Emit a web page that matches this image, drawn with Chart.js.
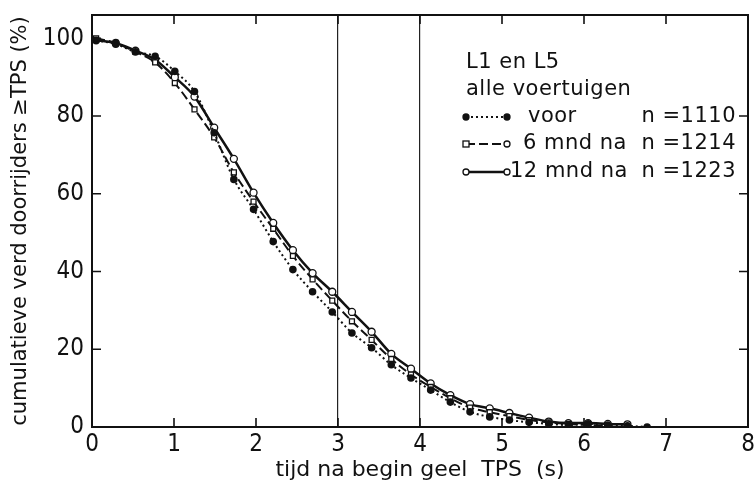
<!DOCTYPE html>
<html>
<head>
<meta charset="utf-8">
<script src="https://cdn.jsdelivr.net/npm/chart.js@4.4.0/dist/chart.umd.min.js"></script>
<style>
  body { margin: 0; background: #fff; }
  #wrap { width: 756px; height: 492px; }
</style>
</head>
<body>
<div id="wrap"><canvas id="grafico"></canvas></div>
<script>
// tijd na begin geel (s) van de meetpunten
const tijden = [0.05, 0.29, 0.53, 0.77, 1.01, 1.25, 1.49, 1.73, 1.97, 2.21, 2.45, 2.69, 2.93, 3.17, 3.41,
                3.65, 3.89, 4.13, 4.37, 4.61, 4.85, 5.09, 5.33, 5.57, 5.81, 6.05, 6.29, 6.53, 6.77];
// cumulatieve verdeling doorrijders (%)
const voor = [99.5, 98.5, 96.5, 95.4, 91.5, 86.3, 75.7, 63.7, 56, 47.7, 40.5, 34.8, 29.6, 24.2, 20.4,
              16, 12.6, 9.5, 6.4, 3.9, 2.6, 1.8, 1.2, 0.8, 0.5, 0.8, 0.5, 0.3, 0];
const zesMnd = [100, 98.8, 96.5, 93.8, 88.5, 81.7, 74.5, 65.5, 58, 51, 44, 38, 32.5, 27.2, 22.4,
                17.5, 13.5, 10.3, 7.4, 5.0, 3.8, 2.8, 1.8, 1.2, 0.8, 0.5, 0.3];
const twaalfMnd = [99.5, 98.8, 96.8, 94.5, 90, 85, 77, 69, 60.3, 52.5, 45.5, 39.6, 34.8, 29.6, 24.5,
                   18.8, 15, 11.2, 8.2, 5.9, 4.8, 3.6, 2.4, 1.4, 1.0, 1.0, 0.8, 0.7];

const xTicks = [0, 1, 2, 3, 4, 5, 6, 7, 8];
const yTicks = [0, 20, 40, 60, 80, 100];
const hulpLijnen = [3, 4];

const kop = ['L1 en L5', 'alle voertuigen'];
const reeksNamen = ['voor', '6 mnd na', '12 mnd na'];
const aantallen = ['n =1110', 'n =1214', 'n =1223'];

const SMAL = '"DejaVu Sans Condensed", "Liberation Sans Narrow", "DejaVu Sans", sans-serif';
const BREED = '"DejaVu Sans", sans-serif';

function punten(waarden) {
  return waarden.map((v, i) => ({ x: tijden[i], y: v }));
}

// kader met naar binnen gerichte streepjes + legenda in de grafiek
const kader = {
  id: 'kader',
  afterDraw(chart) {
    const { ctx, chartArea: a, scales: { x, y } } = chart;
    ctx.save();
    ctx.strokeStyle = '#111';
    ctx.lineWidth = 2;
    ctx.strokeRect(a.left, a.top, a.right - a.left, a.bottom - a.top);

    ctx.lineWidth = 1.6;
    ctx.beginPath();
    xTicks.slice(1, -1).forEach(v => {
      const px = x.getPixelForValue(v);
      ctx.moveTo(px, a.bottom); ctx.lineTo(px, a.bottom - 9);
      ctx.moveTo(px, a.top); ctx.lineTo(px, a.top + 9);
    });
    yTicks.slice(1).forEach(v => {
      const py = y.getPixelForValue(v);
      ctx.moveTo(a.left, py); ctx.lineTo(a.left + 9, py);
      if (v < 100) { ctx.moveTo(a.right, py); ctx.lineTo(a.right - 9, py); }
    });
    ctx.stroke();

    // legenda
    ctx.fillStyle = '#111';
    ctx.font = '21px ' + BREED;
    ctx.letterSpacing = '0.5px';
    ctx.textBaseline = 'alphabetic';
    ctx.fillText(kop[0], 466, 68);
    ctx.fillText(kop[1], 466, 95);

    const rijY = [122, 149, 177];
    const naamX = [528, 523, 510];
    const nEinde = 736;
    chart.data.datasets.forEach((ds, i) => {
      const ly = rijY[i] - 5;
      ctx.save();
      ctx.strokeStyle = '#111';
      ctx.lineWidth = ds.borderWidth;
      ctx.setLineDash(ds.borderDash || []);
      ctx.beginPath();
      ctx.moveTo(466, ly); ctx.lineTo(507, ly);
      ctx.stroke();
      ctx.setLineDash([]);
      ctx.lineWidth = 1.3;
      [466, 507].forEach((px, k) => {
        ctx.beginPath();
        if (ds.pointStyle === 'rect' && k === 0) {
          ctx.fillStyle = '#fff';
          ctx.fillRect(px - 3, ly - 3, 6, 6);
          ctx.strokeRect(px - 3, ly - 3, 6, 6);
        } else {
          ctx.arc(px, ly, 3, 0, Math.PI * 2);
          ctx.fillStyle = ds.pointBackgroundColor;
          ctx.fill();
          ctx.stroke();
        }
      });
      ctx.restore();
      ctx.textAlign = 'left';
      ctx.fillText(reeksNamen[i], naamX[i], rijY[i]);
      ctx.textAlign = 'right';
      ctx.fillText(aantallen[i], nEinde, rijY[i]);
      ctx.textAlign = 'left';
    });
    ctx.restore();
  }
};

new Chart(document.getElementById('grafico'), {
  type: 'scatter',
  data: {
    datasets: [
      {
        label: reeksNamen[0],
        data: punten(voor),
        showLine: true,
        borderColor: '#111',
        borderWidth: 2,
        borderDash: [2, 3],
        pointStyle: 'circle',
        pointRadius: 2.8,
        pointBackgroundColor: '#111',
        pointBorderColor: '#111',
        cubicInterpolationMode: 'monotone'
      },
      {
        label: reeksNamen[1],
        data: punten(zesMnd),
        showLine: true,
        borderColor: '#111',
        borderWidth: 2,
        borderDash: [9, 4],
        pointStyle: 'rect',
        pointRadius: 3.5,
        pointBackgroundColor: '#fff',
        pointBorderColor: '#111',
        pointBorderWidth: 1.3,
        cubicInterpolationMode: 'monotone'
      },
      {
        label: reeksNamen[2],
        data: punten(twaalfMnd),
        showLine: true,
        borderColor: '#111',
        borderWidth: 2.5,
        pointStyle: 'circle',
        pointRadius: 3.5,
        pointBackgroundColor: '#fff',
        pointBorderColor: '#111',
        pointBorderWidth: 1.3,
        cubicInterpolationMode: 'monotone'
      }
    ]
  },
  options: {
    responsive: true,
    maintainAspectRatio: false,
    animation: false,
    layout: { padding: { left: 8, top: 15, right: 8, bottom: 0 } },
    plugins: {
      legend: { display: false },
      tooltip: { enabled: false }
    },
    scales: {
      x: {
        type: 'linear',
        min: 0,
        max: 8,
        afterBuildTicks: s => { s.ticks = xTicks.map(v => ({ value: v })); },
        afterFit: s => { s.height = 65; s.paddingLeft = 0; s.paddingRight = 0; },
        border: { display: false },
        grid: {
          drawTicks: false,
          color: c => hulpLijnen.includes(c.tick.value) ? '#222' : 'rgba(0,0,0,0)',
          lineWidth: 1.2
        },
        ticks: { color: '#111', padding: 3, font: { family: SMAL, size: 24 } },
        title: {
          display: true,
          text: 'tijd na begin geel  TPS  (s)',
          color: '#111',
          padding: { top: 0, bottom: 9 },
          font: { family: BREED, size: 22 }
        }
      },
      y: {
        type: 'linear',
        min: 0,
        max: 106,
        afterBuildTicks: s => { s.ticks = yTicks.map(v => ({ value: v })); },
        afterFit: s => { s.width = 84; s.paddingTop = 0; s.paddingBottom = 0; },
        border: { display: false },
        grid: { display: false, drawTicks: false },
        ticks: { color: '#111', padding: 8, font: { family: SMAL, size: 24 } },
        title: {
          display: true,
          text: 'cumulatieve verd doorrijders \u2265TPS (%)',
          color: '#111',
          padding: { top: 0, bottom: 0 },
          font: { family: BREED, size: 21 }
        }
      }
    }
  },
  plugins: [kader]
});
</script>
</body>
</html>
